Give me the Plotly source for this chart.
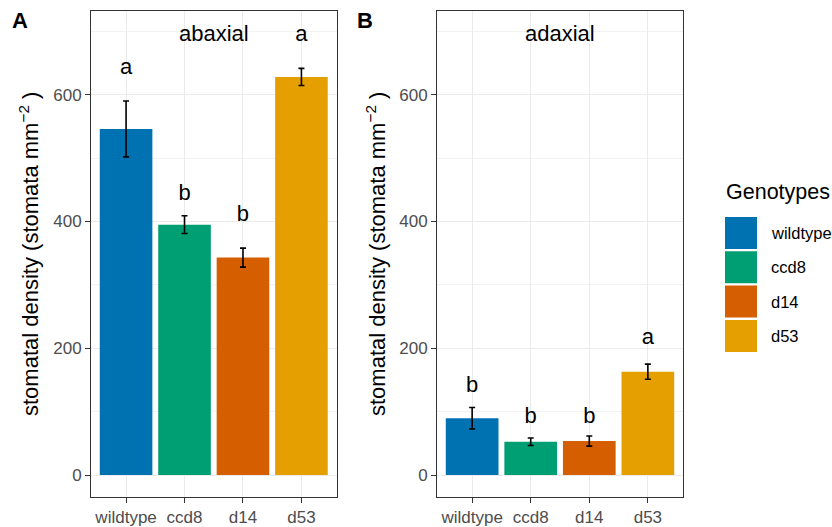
import plotly.graph_objects as go

# Stomatal density per genotype (mean ± SE), abaxial and adaxial leaf surfaces
genotypes = ["wildtype", "ccd8", "d14", "d53"]
colors = ["#0072B2", "#009E73", "#D55E00", "#E69F00"]

abaxial_mean = [546, 395, 343, 628]
abaxial_se = [44, 14, 15, 13.5]
abaxial_letters = ["a", "b", "b", "a"]
abaxial_letter_y = [642, 442, 410, 694]

adaxial_mean = [89.5, 52.5, 53.5, 163]
adaxial_se = [17, 6, 8, 12]
adaxial_letters = ["b", "b", "b", "a"]
adaxial_letter_y = [140, 90, 90, 215]

y_ticks = [0, 200, 400, 600]
y_range = [-34.7, 732.1]

W, H = 832, 527
FONT = "Liberation Sans, Arial, Helvetica, sans-serif"


def fx(px):
    return px / W


def fy(py):
    return 1 - py / H


fig = go.Figure()

panels = [
    ("x", "y", abaxial_mean, abaxial_se, abaxial_letters, abaxial_letter_y, "abaxial"),
    ("x2", "y2", adaxial_mean, adaxial_se, adaxial_letters, adaxial_letter_y, "adaxial"),
]

for xa, ya, means, ses, letters, letter_y, label in panels:
    fig.add_trace(go.Bar(
        x=genotypes, y=means, xaxis=xa, yaxis=ya,
        marker=dict(color=colors, line=dict(width=0)),
        width=0.9,
        error_y=dict(type="data", array=ses, color="black", thickness=1.6, width=3),
        showlegend=False, hoverinfo="skip",
    ))
    fig.add_trace(go.Scatter(
        x=genotypes, y=letter_y, xaxis=xa, yaxis=ya,
        mode="text", text=letters, textposition="middle center",
        textfont=dict(size=22, color="black", family=FONT),
        showlegend=False, hoverinfo="skip",
    ))
    fig.add_annotation(
        x=1.5, y=696, xref=xa, yref=ya, text=label, showarrow=False,
        font=dict(size=22, color="black", family=FONT),
        xanchor="center", yanchor="middle",
    )

axis_common = dict(
    showline=True, mirror=True, linecolor="#333333", linewidth=1,
    ticks="outside", ticklen=5, tickwidth=1, tickcolor="#333333",
    tickfont=dict(size=17, color="#4D4D4D", family=FONT),
    showgrid=True, gridcolor="#EBEBEB", gridwidth=1,
    zeroline=False,
)

y_dom = [fy(497), fy(11)]
x_dom_a = [fx(91), fx(336.5)]
x_dom_b = [fx(437), fx(683)]

for name, dom, anchor in [("xaxis", x_dom_a, "y"), ("xaxis2", x_dom_b, "y2")]:
    fig.layout[name] = dict(
        axis_common, domain=dom, anchor=anchor, type="category",
        categoryorder="array", categoryarray=genotypes, range=[-0.6, 3.6],
    )

for name, dom, anchor in [("yaxis", y_dom, "x"), ("yaxis2", y_dom, "x2")]:
    fig.layout[name] = dict(
        axis_common, domain=dom, anchor=anchor, range=y_range,
        tickvals=y_ticks, ticktext=[str(v) for v in y_ticks],
        minor=dict(tickvals=[100, 300, 500, 700], showgrid=True,
                   gridcolor="#F2F2F2", gridwidth=0.6, ticks=""),
    )

# Axis titles
y_title = "stomatal density (stomata mm<sup>\u22122</sup> )"
for cx in (29, 376):
    fig.add_annotation(
        x=fx(cx), y=fy(254), xref="paper", yref="paper", text=y_title,
        showarrow=False, textangle=-90, xanchor="center", yanchor="middle",
        font=dict(size=22, color="black", family=FONT),
    )

# Panel tags
for tag, cx in (("A", 19.5), ("B", 365)):
    fig.add_annotation(
        x=fx(cx), y=fy(20), xref="paper", yref="paper", text=f"<b>{tag}</b>",
        showarrow=False, xanchor="center", yanchor="middle",
        font=dict(size=22, color="black", family=FONT),
    )

# Legend: title, colour keys and labels
fig.add_annotation(
    x=fx(724), y=fy(192), xref="paper", yref="paper", text="Genotypes",
    showarrow=False, xanchor="left", yanchor="middle",
    font=dict(size=21.5, color="black", family=FONT),
)
key_top, key_step, key_h = 217, 34.3, 32
for i, (g, c) in enumerate(zip(genotypes, colors)):
    top = key_top + i * key_step
    fig.add_shape(
        type="rect", xref="paper", yref="paper",
        x0=fx(725), x1=fx(757), y0=fy(top + key_h), y1=fy(top),
        fillcolor=c, line=dict(width=0),
    )
    fig.add_annotation(
        x=fx(769), y=fy(top + key_h / 2), xref="paper", yref="paper", text=g,
        showarrow=False, xanchor="left", yanchor="middle",
        font=dict(size=16.5, color="black", family=FONT),
    )

fig.update_layout(
    width=W, height=H, margin=dict(l=0, r=0, t=0, b=0),
    paper_bgcolor="white", plot_bgcolor="white",
    bargap=0.1, showlegend=False,
)

fig.write_html("out.html")
